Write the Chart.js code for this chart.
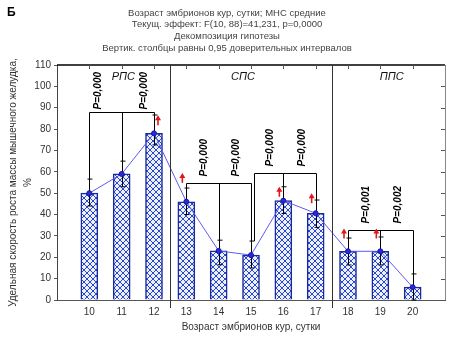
<!DOCTYPE html>
<html><head><meta charset="utf-8">
<script src="https://cdn.jsdelivr.net/npm/chart.js@4/dist/chart.umd.min.js"></script>
<style>html,body{margin:0;padding:0;background:#fff;}canvas{display:block;}</style>
</head><body>
<canvas id="c" width="454" height="340"></canvas>
<script>
// ---- data ----
const categories = ['10','11','12','13','14','15','16','17','18','19','20'];
const ages = [10, 11, 12, 13, 14, 15, 16, 17, 18, 19, 20];
const means = [50, 59, 78, 46, 23, 21, 46.5, 40.6, 22.8, 22.8, 6];
const ciHigh = [56.6, 65, 86.6, 52.4, 28, 27.6, 53, 46.8, 29, 29.5, 12.2];
const ciLow = [44, 53, 72.6, 40, 16.5, 15, 40.5, 34, 16.4, 16.4, 0];
const yTicks = [0, 10, 20, 30, 40, 50, 60, 70, 80, 90, 100, 110];
const titleLines = [
  'Возраст эмбрионов кур, сутки; МНС средние',
  'Текущ. эффект: F(10, 88)=41,231, p=0,0000',
  'Декомпозиция гипотезы',
  'Вертик. столбцы равны 0,95 доверительных интервалов'
];
const panelLetter = 'Б';
const yTitle = ['Удельная скорость роста массы мышечного желудка,', '%'];
const xTitle = 'Возраст эмбрионов кур, сутки';
const dividers = [12.5, 17.5];
const regionNames = ['РПС', 'СПС', 'ППС'];
const regionX = [11.05, 14.75, 19.35];
const regionY = 104.5;
// significance brackets: categories joined, bracket level, p-value labels and their x
const bracketFrom = [10, 13, 15, 18];
const bracketTo = [12, 15, 17, 20];
const bracketLevel = [88, 55, 59.5, 32.8];
const bracketP = [['P=0,000','P=0,000'], ['P=0,000','P=0,000'], ['P=0,000','P=0,000'], ['P=0,001','P=0,002']];
const bracketPX = [[10.28, 11.7], [13.55, 14.55], [15.6, 16.6], [18.55, 19.55]];
// red arrows (increase markers)
const arrowCats = [12, 13, 16, 17, 18, 19];
const arrowTip = [86.5, 59.5, 53, 50, 33.5, 33.5];
const arrowSide = [1, -1, -1, -1, -1, -1];

// ---- hatch pattern ----
function makePattern() {
  const p = document.createElement('canvas');
  p.width = 6; p.height = 6;
  const g = p.getContext('2d');
  g.fillStyle = '#eaf0ff';
  g.fillRect(0, 0, 6, 6);
  g.strokeStyle = '#2b47c8';
  g.lineWidth = 1;
  g.beginPath();
  g.moveTo(-1, -1); g.lineTo(7, 7);
  g.moveTo(7, -1); g.lineTo(-1, 7);
  g.stroke();
  return document.getElementById('c').getContext('2d').createPattern(p, 'repeat');
}
const pattern = makePattern();

const barData = ages.map((a, i) => ({x: a, y: means[i]}));
const lineData = ages.map((a, i) => ({x: a, y: means[i]}));

const FONT = 'Arial, "Liberation Sans", sans-serif';

const decorPlugin = {
  id: 'decor',
  afterDatasetDraw(chart, args) {
    if (args.index !== 0) return;
    const ctx = chart.ctx, xs = chart.scales.x, ys = chart.scales.y;
    ctx.save();
    ctx.strokeStyle = '#000';
    ctx.lineWidth = 1;
    ages.forEach((a, i) => {
      const x = Math.round(xs.getPixelForValue(a)) + 0.5;
      const yh = ys.getPixelForValue(ciHigh[i]);
      const yl = ys.getPixelForValue(ciLow[i]);
      ctx.beginPath();
      ctx.moveTo(x, yh); ctx.lineTo(x, yl);
      ctx.moveTo(x - 2, yh); ctx.lineTo(x + 3, yh);
      ctx.moveTo(x - 2, yl); ctx.lineTo(x + 3, yl);
      ctx.stroke();
    });
    ctx.restore();
  },
  afterDatasetsDraw(chart) {
    const ctx = chart.ctx, xs = chart.scales.x, ys = chart.scales.y, ca = chart.chartArea;
    ctx.save();
    // frame: top and right
    ctx.strokeStyle = '#000';
    ctx.lineWidth = 1.5;
    ctx.beginPath(); ctx.moveTo(ca.left, ca.top); ctx.lineTo(ca.right, ca.top); ctx.stroke();
    ctx.strokeStyle = '#888';
    ctx.lineWidth = 1;
    ctx.beginPath(); ctx.moveTo(ca.right + 0.5, ca.top); ctx.lineTo(ca.right + 0.5, ca.bottom); ctx.stroke();
    // top ticks
    ctx.strokeStyle = '#555';
    ages.forEach(a => {
      const x = Math.round(xs.getPixelForValue(a)) + 0.5;
      ctx.beginPath(); ctx.moveTo(x, ca.top); ctx.lineTo(x, ca.top + 4); ctx.stroke();
    });
    // right ticks
    yTicks.forEach(v => {
      const y = Math.round(ys.getPixelForValue(v)) + 0.5;
      ctx.beginPath(); ctx.moveTo(ca.right, y); ctx.lineTo(ca.right - 4, y); ctx.stroke();
    });
    // dividers
    ctx.strokeStyle = '#333';
    dividers.forEach(d => {
      const x = Math.round(xs.getPixelForValue(d)) + 0.5;
      ctx.beginPath(); ctx.moveTo(x, ca.top); ctx.lineTo(x, ca.bottom + 8); ctx.stroke();
    });
    // region names
    ctx.fillStyle = '#111';
    ctx.font = 'italic 11px ' + FONT;
    ctx.textAlign = 'center'; ctx.textBaseline = 'middle';
    regionNames.forEach((n, i) => ctx.fillText(n, xs.getPixelForValue(regionX[i]), ys.getPixelForValue(regionY)));
    // brackets
    ctx.strokeStyle = '#000';
    ctx.lineWidth = 1;
    const used = {};
    bracketFrom.forEach((f, b) => {
      const yL = Math.round(ys.getPixelForValue(bracketLevel[b])) + 0.5;
      const stems = [];
      for (let c = f; c <= bracketTo[b]; c++) {
        let x = Math.round(xs.getPixelForValue(c)) + 0.5;
        if (used[c]) x += 3;
        used[c] = true;
        stems.push(x);
        const i = ages.indexOf(c);
        ctx.beginPath(); ctx.moveTo(x, yL); ctx.lineTo(x, ys.getPixelForValue(ciHigh[i])); ctx.stroke();
      }
      ctx.beginPath(); ctx.moveTo(stems[0], yL); ctx.lineTo(stems[stems.length - 1], yL); ctx.stroke();
      ctx.fillStyle = '#000';
      ctx.font = 'italic bold 10px ' + FONT;
      ctx.textAlign = 'left'; ctx.textBaseline = 'middle';
      bracketP[b].forEach((t, k) => {
        ctx.save();
        ctx.translate(xs.getPixelForValue(bracketPX[b][k]), yL - (b === 0 ? 3 : 7));
        ctx.rotate(-Math.PI / 2);
        ctx.fillText(t, 0, 0);
        ctx.restore();
      });
    });
    // red arrows
    ctx.fillStyle = '#e3141b';
    ctx.strokeStyle = '#e3141b';
    arrowCats.forEach((c, i) => {
      const x = xs.getPixelForValue(c) + arrowSide[i] * 4;
      const yt = ys.getPixelForValue(arrowTip[i]);
      ctx.lineWidth = 1.6;
      ctx.beginPath(); ctx.moveTo(x, yt + 4); ctx.lineTo(x, yt + 10); ctx.stroke();
      ctx.beginPath(); ctx.moveTo(x, yt); ctx.lineTo(x - 3, yt + 5); ctx.lineTo(x + 3, yt + 5); ctx.closePath(); ctx.fill();
    });
    ctx.restore();
  },
  afterDraw(chart) {
    const ctx = chart.ctx, ca = chart.chartArea;
    ctx.save();
    ctx.fillStyle = '#444';
    ctx.font = '9.5px ' + FONT;
    ctx.textAlign = 'center'; ctx.textBaseline = 'middle';
    titleLines.forEach((t, i) => ctx.fillText(t, 227, 13 + i * 11.8));
    ctx.fillStyle = '#000';
    ctx.font = 'bold 12px ' + FONT;
    ctx.textAlign = 'left';
    ctx.fillText(panelLetter, 7, 13);
    // x title
    ctx.fillStyle = '#333';
    ctx.font = '10px ' + FONT;
    ctx.textAlign = 'center';
    ctx.fillText(xTitle, (ca.left + ca.right) / 2, 327);
    // y title
    const cy = (ca.top + ca.bottom) / 2;
    yTitle.forEach((t, i) => {
      ctx.save();
      ctx.translate(13 + i * 15, cy);
      ctx.rotate(-Math.PI / 2);
      ctx.fillText(t, 0, 0);
      ctx.restore();
    });
    ctx.restore();
  }
};

new Chart(document.getElementById('c'), {
  data: {
    datasets: [
      {
        type: 'bar',
        data: barData,
        backgroundColor: pattern,
        borderColor: '#1a2a9a',
        borderWidth: 1.5,
        barThickness: 17,
        order: 2
      },
      {
        type: 'line',
        data: lineData,
        borderColor: '#5c5cf2',
        borderWidth: 1,
        pointRadius: 2.5,
        pointBackgroundColor: '#2a2ad8',
        pointBorderColor: '#1414a8',
        pointBorderWidth: 1,
        tension: 0,
        order: 1
      }
    ]
  },
  options: {
    responsive: false,
    devicePixelRatio: 1,
    animation: false,
    layout: {padding: {top: 65, right: 9, left: 0, bottom: 0}},
    plugins: {legend: {display: false}, tooltip: {enabled: false}, title: {display: false}},
    scales: {
      x: {
        type: 'linear',
        offset: false,
        min: 9, max: 21,
        afterFit(s) { s.height = 40; },
        afterBuildTicks(s) { s.ticks = ages.map(v => ({value: v})); },
        ticks: {
          callback(v) { const i = ages.indexOf(v); return i >= 0 ? categories[i] : ''; },
          color: '#333', font: {size: 10, family: FONT}, padding: 6, maxRotation: 0, autoSkip: false
        },
        grid: {display: false, drawTicks: false, offset: false},
        border: {display: true, color: '#555', width: 1}
      },
      y: {
        min: 0, max: 110,
        afterFit(s) { s.width = 57; },
        afterBuildTicks(s) { s.ticks = yTicks.map(v => ({value: v})); },
        ticks: {color: '#333', font: {size: 10, family: FONT}, padding: 3},
        grid: {drawOnChartArea: false, drawTicks: true, tickLength: 3, color: '#555'},
        border: {display: true, color: '#444', width: 1}
      }
    }
  },
  plugins: [decorPlugin]
});
</script>
</body></html>
